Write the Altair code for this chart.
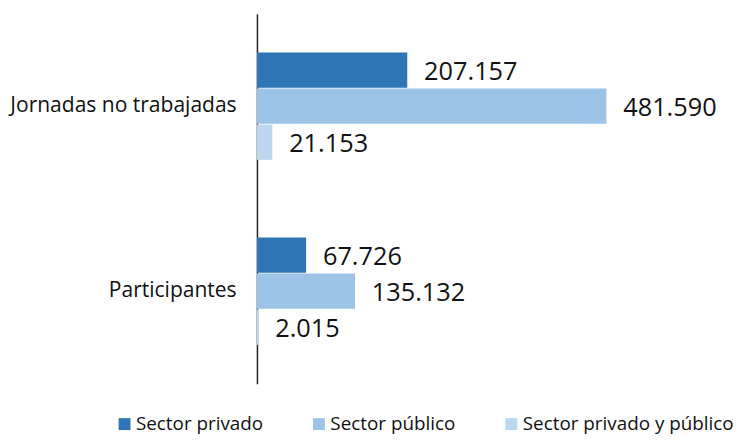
import altair as alt
import pandas as pd

categories = ["Jornadas no trabajadas", "Participantes"]
series = ["Sector privado", "Sector público", "Sector privado y público"]
privado = [207157, 67726]
publico = [481590, 135132]
mixto = [21153, 2015]
colors = ["#2E75B6", "#9DC3E6", "#BDD7EE"]

rows = []
for s, vals in zip(series, [privado, publico, mixto]):
    for c, v in zip(categories, vals):
        rows.append({"cat": c, "serie": s, "valor": v,
                     "etiqueta": f"{v:,}".replace(",", ".")})
df = pd.DataFrame(rows)

FONT = "Open Sans"

y = alt.Y("cat:N", sort=categories, title=None,
          scale=alt.Scale(paddingInner=0.42, paddingOuter=0.21),
          axis=alt.Axis(domainColor="#222", domainWidth=1.5, ticks=False,
                        labelFont=FONT, labelFontSize=21.2, labelColor="#111",
                        labelPadding=21, labelLimit=0))
yoff = alt.YOffset("serie:N", sort=series, scale=alt.Scale(paddingInner=0.02))
x = alt.X("valor:Q", title=None, axis=None,
          scale=alt.Scale(domain=[0, 596000], nice=False))

bars = alt.Chart(df).mark_bar().encode(
    x=x, y=y, yOffset=yoff,
    color=alt.Color("serie:N", sort=series,
                    scale=alt.Scale(domain=series, range=colors),
                    legend=alt.Legend(title=None, orient="none", direction="horizontal",
                                      legendX=-143, legendY=404,
                                      symbolType="square", symbolSize=144,
                                      symbolStrokeWidth=0, labelFont=FONT,
                                      labelFontSize=19, labelColor="#111",
                                      labelOffset=2, columnPadding=46, labelLimit=0)),
)

labels = alt.Chart(df).mark_text(align="left", baseline="middle", dx=17, dy=2,
                                 font=FONT, fontSize=25.5, color="#111").encode(
    x=x, y=y, yOffset=yoff, text="etiqueta:N")

chart = (bars + labels).properties(
    width=436, height=373,
    autosize="none",
    padding={"left": 251, "top": 4, "right": 49, "bottom": 51},
).configure_view(stroke=None)

chart.save("out.html", embed_options={"renderer": "svg", "actions": False})
